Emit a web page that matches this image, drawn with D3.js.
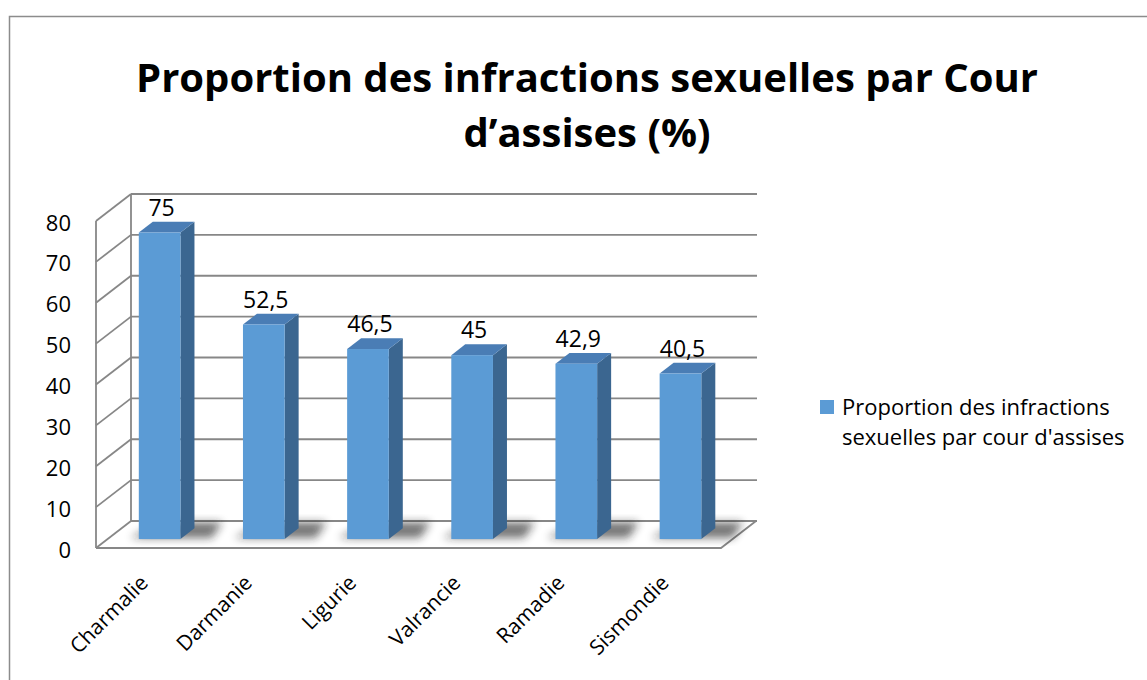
<!DOCTYPE html>
<html lang="fr">
    <head>
        <meta charset="utf-8">
        <title>Proportion des infractions sexuelles par Cour d'assises</title>
        <script src="https://d3js.org/d3.v7.min.js"></script>
        <style>
            body { margin: 0; background: #fff; }
            text { font-family: 'Open Sans', 'DejaVu Sans', sans-serif; fill: #000; }
        </style>
    </head>
    <body>
    <div id="mainDiv"></div>

        <script type="text/javascript">
            // data
            const categories = ['Charmalie', 'Darmanie', 'Ligurie', 'Valrancie', 'Ramadie', 'Sismondie']
            const values = [75, 52.5, 46.5, 45, 42.9, 40.5]
            const valueLabels = ['75', '52,5', '46,5', '45', '42,9', '40,5']
            const yTicks = [0, 10, 20, 30, 40, 50, 60, 70, 80]
            const titleLines = ['Proportion des infractions sexuelles par Cour', 'd’assises (%)']
            const legendLines = ['Proportion des infractions', "sexuelles par cour d'assises"]

            const width = 1147
            const height = 680

            // plot floor (front edge) and the depth offset of the 3D box
            const plot = { left: 96, right: 721, bottom: 548, top: 221 }
            const depth = { dx: 35, dy: -27 }
            const barZ = [0.33, 0.73] // bar front / back, as a share of the depth

            const colors = {
                front: '#5b9bd5',
                side: '#3b6690',
                top: '#4a7db5',
                grid: '#878787'
            }

            const svg = d3.select('#mainDiv').append('svg')
                .attr('width', width)
                .attr('height', height)

            svg.append('rect')
                .attr('width', width).attr('height', height)
                .attr('fill', '#fff')

            // chart area border (right and bottom edges fall off the picture)
            svg.append('rect')
                .attr('x', 9.5).attr('y', 16.5)
                .attr('width', width + 20).attr('height', height + 20)
                .attr('fill', 'none')
                .attr('stroke', '#8c8c8c')
                .attr('stroke-width', 1.5)

            const defs = svg.append('defs')
            defs.append('filter')
                .attr('id', 'blur')
                .attr('x', '-50%').attr('y', '-50%')
                .attr('width', '200%').attr('height', '200%')
                .append('feGaussianBlur')
                .attr('stdDeviation', 4.5)

            const xScale = d3.scaleBand()
                .domain(categories)
                .range([plot.left, plot.right])
                .paddingInner(0.6)
                .paddingOuter(0.3)

            const yScale = d3.scaleLinear()
                .domain([0, 80])
                .range([plot.bottom, plot.top])

            // screen position of a point at x, value v, depth z (0 front, 1 back)
            const project = (x, v, z) => [x + z * depth.dx, yScale(v) + z * depth.dy]
            const pts = (list) => list.map(p => p.join(',')).join(' ')

            // title
            svg.append('g')
                .selectAll('text')
                .data(titleLines)
                .join('text')
                .attr('x', 587)
                .attr('y', (d, i) => 92 + i * 55)
                .attr('text-anchor', 'middle')
                .style('font-size', '40px')
                .style('font-weight', 'bold')
                .text(d => d)

            // walls and grid
            const grid = svg.append('g')
                .attr('fill', 'none')
                .attr('stroke', colors.grid)
                .attr('stroke-width', 1.8)

            grid.selectAll('.back')
                .data(yTicks)
                .join('line')
                .attr('class', 'back')
                .attr('x1', plot.left + depth.dx)
                .attr('x2', plot.right + depth.dx + 1)
                .attr('y1', d => yScale(d) + depth.dy)
                .attr('y2', d => yScale(d) + depth.dy)

            grid.selectAll('.side')
                .data(yTicks)
                .join('line')
                .attr('class', 'side')
                .attr('x1', plot.left)
                .attr('y1', d => yScale(d))
                .attr('x2', plot.left + depth.dx)
                .attr('y2', d => yScale(d) + depth.dy)

            grid.append('line')
                .attr('x1', plot.left).attr('x2', plot.left)
                .attr('y1', yScale(0)).attr('y2', yScale(80))
            grid.append('line')
                .attr('x1', plot.left + depth.dx).attr('x2', plot.left + depth.dx)
                .attr('y1', yScale(0) + depth.dy).attr('y2', yScale(80) + depth.dy)

            // floor
            grid.append('polyline')
                .attr('points', pts([
                    project(plot.left, 0, 0),
                    project(plot.right, 0, 0),
                    project(plot.right, 0, 1)
                ]))

            // bar shadows on the floor
            const bw = xScale.bandwidth()
            svg.append('g')
                .selectAll('polygon')
                .data(categories)
                .join('polygon')
                .attr('points', d => pts([
                    project(xScale(d) - 10, 0, barZ[0] + 0.04),
                    project(xScale(d) + bw + 30, 0, barZ[0] + 0.04),
                    project(xScale(d) + bw + 20, 0, 0.95),
                    project(xScale(d) + 2, 0, 0.95)
                ]))
                .attr('fill', '#1a1a1a')
                .attr('opacity', 0.6)
                .attr('filter', 'url(#blur)')

            // bars
            const bars = svg.append('g')
                .selectAll('g')
                .data(categories)
                .join('g')

            bars.append('polygon')
                .attr('fill', colors.side)
                .attr('points', (d, i) => pts([
                    project(xScale(d) + bw, values[i], barZ[0]),
                    project(xScale(d) + bw, values[i], barZ[1]),
                    project(xScale(d) + bw, 0, barZ[1]),
                    project(xScale(d) + bw, 0, barZ[0])
                ]))

            bars.append('polygon')
                .attr('fill', colors.top)
                .attr('points', (d, i) => pts([
                    project(xScale(d), values[i], barZ[0]),
                    project(xScale(d) + bw, values[i], barZ[0]),
                    project(xScale(d) + bw, values[i], barZ[1]),
                    project(xScale(d), values[i], barZ[1])
                ]))

            bars.append('rect')
                .attr('fill', colors.front)
                .attr('x', d => project(xScale(d), 0, barZ[0])[0])
                .attr('y', (d, i) => project(0, values[i], barZ[0])[1])
                .attr('width', bw)
                .attr('height', (d, i) => yScale(0) - yScale(values[i]))

            // value labels
            bars.append('text')
                .attr('x', d => project(xScale(d) + bw / 2, 0, barZ[0])[0] + 2)
                .attr('y', (d, i) => project(0, values[i], barZ[1])[1] - 6)
                .attr('text-anchor', 'middle')
                .style('font-size', '23px')
                .text((d, i) => valueLabels[i])

            // y axis
            const yAxis = d3.axisLeft(yScale)
                .tickValues(yTicks)
                .tickSize(0)
                .tickPadding(0)

            const yAxisPlot = svg.append('g')
                .attr('transform', 'translate(71, 2)')
                .call(yAxis)
            yAxisPlot.select('.domain').remove()
            yAxisPlot.selectAll('text')
                .style('font-size', '22px')
                .style('font-family', null)
                .attr('fill', '#000')

            // x axis, rotated category names
            const xAxis = d3.axisBottom(xScale).tickSize(0)
            const xAxisPlot = svg.append('g')
                .attr('transform', 'translate(-4, 579)')
                .call(xAxis)
            xAxisPlot.select('.domain').remove()
            xAxisPlot.selectAll('text')
                .attr('y', 0)
                .attr('dy', '0.35em')
                .attr('text-anchor', 'end')
                .attr('transform', 'rotate(-45)')
                .attr('fill', '#000')
                .style('font-size', '21px')
                .style('font-family', null)

            // legend
            const legend = svg.append('g')
                .attr('transform', 'translate(820, 400)')
            legend.append('rect')
                .attr('width', 14).attr('height', 14)
                .attr('fill', colors.front)
            legend.selectAll('text')
                .data(legendLines)
                .join('text')
                .attr('x', 22)
                .attr('y', (d, i) => 15 + i * 30)
                .style('font-size', '22px')
                .text(d => d)
        </script>
    </body>
</html>
